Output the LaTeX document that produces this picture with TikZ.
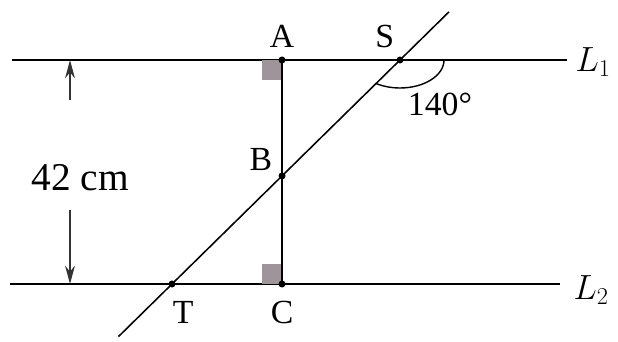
\documentclass[tikz,border=0pt]{standalone}
\usepackage{amsmath,amssymb}
\usepackage{fontspec}
\setmainfont{Liberation Serif}
\usepackage{tikz}
\usepackage{xcolor}
\usetikzlibrary{arrows.meta,positioning,calc}
\definecolor{markc}{RGB}{158,148,154}
\tikzset{
  geoline/.style={line width=1.1pt},
  ptlabel/.style={font=\fontsize{24}{28}\selectfont,inner sep=1pt},
  ptdot/.style={circle,fill=black,inner sep=0pt,minimum size=5pt},
  rightmark/.style={fill=markc,draw=none},
  distarrow/.style={line width=0.9pt,draw=black!80,-{Stealth[length=13pt,width=7pt]}}
}
\begin{document}
\begin{tikzpicture}
\useasboundingbox (0,0) rectangle (15.45,8.55);
% the two parallel lines
\coordinate (L1w) at (0.3,7.05);
\coordinate (L1e) at (14.18,7.05);
\coordinate (L2w) at (0.25,1.45);
\coordinate (L2e) at (14.0,1.45);
\draw[geoline] (L1w) -- (L1e);
\draw[geoline] (L2w) -- (L2e);
\node[ptlabel,anchor=west] (l1) at (14.35,7.0) {$L_1$};
\node[ptlabel,anchor=west] (l2) at (14.3,1.3) {$L_2$};
% points
\coordinate (A) at (7.05,7.05);
\coordinate (C) at (7.05,1.45);
\coordinate (S) at (10.0,7.05);
\coordinate (T) at (4.3,1.45);
\coordinate (B) at (intersection of A--C and S--T);
\coordinate (top) at ($(T)!1.215!(S)$);
\coordinate (bot) at ($(T)!-0.235!(S)$);
% right-angle marks
\fill[rightmark] (6.55,6.55) rectangle (A);
\fill[rightmark] (6.55,1.95) rectangle (C);
% segments
\draw[geoline] (A) -- (C);
\draw[geoline] (bot) -- (top);
% angle at S
\draw[line width=1pt] ($(S)+(1.1,0)$) arc[start angle=0,end angle=-122.5,x radius=1.1,y radius=0.7];
\node[ptlabel] (ang) at (11.0,5.93) {140°};
% dots and labels
\foreach \p in {A,B,C,S,T} \node[ptdot] at (\p) {};
\node[ptlabel] (la) at (7.05,7.63) {A};
\node[ptlabel] (ls) at (9.62,7.63) {S};
\node[ptlabel] (lb) at (6.52,4.55) {B};
\node[ptlabel] (lt) at (4.58,0.75) {T};
\node[ptlabel] (lc) at (7.05,0.75) {C};
% distance between the lines
\node[font=\fontsize{28}{33}\selectfont] (dist) at (2.0,4.12) {42 cm};
\coordinate (d1) at (1.75,7.05);
\coordinate (d2) at (1.75,1.45);
\draw[distarrow] (1.75,6.05) -- (d1);
\draw[distarrow] (1.75,3.3) -- (d2);
\end{tikzpicture}
\end{document}
